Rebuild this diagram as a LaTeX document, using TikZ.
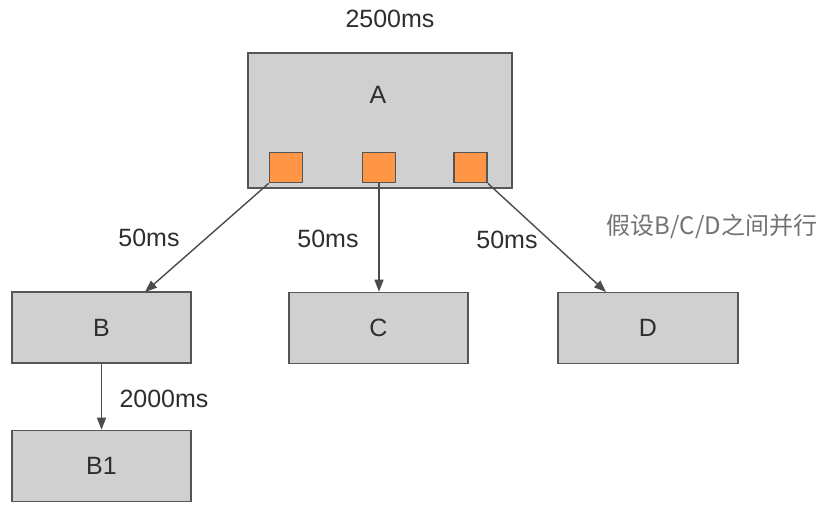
\documentclass[tikz,border=0pt]{standalone}
\usepackage{fontspec}
\setmainfont{Liberation Sans}
\newfontfamily\cjk{Noto Sans CJK SC}
\usetikzlibrary{arrows.meta}
\definecolor{boxfill}{HTML}{D0D0D0}
\definecolor{boxline}{HTML}{555555}
\definecolor{orangefill}{HTML}{FF9645}
\definecolor{txt}{HTML}{2E2E2E}
\definecolor{note}{HTML}{737373}
\begin{document}
\begin{tikzpicture}[x=1pt,y=-1pt,
  box/.style={draw=boxline,fill=boxfill,line width=1.6pt,minimum width=179pt,minimum height=71pt,inner sep=0pt,font=\fontsize{25}{29}\selectfont,text=txt},
  port/.style={draw=boxline,fill=orangefill,line width=1.6pt,minimum width=33pt,minimum height=30pt,inner sep=0pt},
  lbl/.style={font=\fontsize{25}{29}\selectfont,text=txt,inner sep=0pt},
  conn/.style={draw=boxline!90!black,line width=1.4pt,-{Triangle[length=12pt,width=9pt]}}]
\useasboundingbox (0,0) rectangle (824,504);
\fill[white] (0,0) rectangle (824,504);
\node[box,minimum width=264pt,minimum height=135pt] (A) at (380,120.5) {};
\node[lbl] (Atext) at (378,95) {A};
\node[port] (s1) at (286,167.5) {};
\node[port] (s2) at (379,167.5) {};
\node[port] (s3) at (470.5,167.5) {};
\node[box] (B) at (101.5,327.5) {B};
\node[box] (C) at (378.5,328) {C};
\node[box,minimum width=180pt] (D) at (648,328) {D};
\node[box] (B1) at (101.5,466) {B1};
\coordinate (Bin) at (145,292);
\coordinate (Din) at (606,292);
\draw[conn] (s1.south west) -- (Bin);
\draw[conn] (s2.south) -- (s2.south |- C.north);
\draw[conn] (s3.south east) -- (Din);
\draw[conn] (B.south) -- (B1.north);
\node[lbl] (t0) at (390,19) {2500ms};
\node[lbl] (t1) at (149,238) {50ms};
\node[lbl] (t2) at (328,239) {50ms};
\node[lbl] (t3) at (507,240) {50ms};
\node[lbl] (t4) at (164,399) {2000ms};
\node[inner sep=0pt,text=note,font=\cjk\fontsize{24}{29}\selectfont] (note) at (712,227) {假设B/C/D之间并行};
\end{tikzpicture}
\end{document}
